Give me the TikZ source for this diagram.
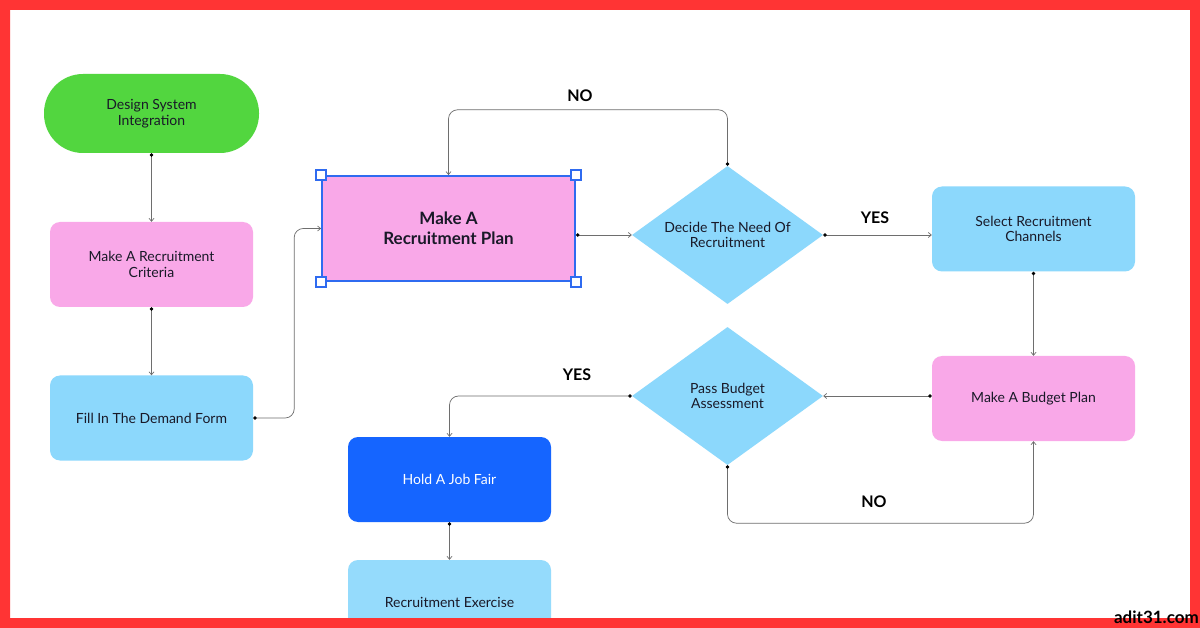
\documentclass[tikz,border=0pt]{standalone}
\usepackage{fontspec}
\setmainfont{Lato}
\usepackage{tikz}
\usetikzlibrary{arrows.meta,shapes.geometric,calc}
\definecolor{termgreen}{RGB}{82,214,63}
\definecolor{stepPink}{RGB}{249,168,232}
\definecolor{stepSky}{RGB}{140,216,252}
\definecolor{stepBlue}{RGB}{21,101,255}
\definecolor{selBlue}{RGB}{47,107,240}
\definecolor{frameRed}{RGB}{255,52,52}
\definecolor{lineGray}{RGB}{110,110,110}
\definecolor{ink}{RGB}{25,25,40}

\begin{document}
\begin{tikzpicture}[x=1pt,y=-1pt,
font=\fontsize{14}{15.5}\selectfont,
box/.style={rounded corners=10pt,align=center,minimum width=203pt,minimum height=85pt,inner sep=2pt,text=ink},
term/.style={box,fill=termgreen,minimum width=215pt,minimum height=79pt,rounded corners=39pt},
decision/.style={diamond,aspect=1.38,align=center,minimum width=191pt,minimum height=138pt,inner sep=0pt,fill=stepSky,text=ink},
handle/.style={draw=selBlue,fill=white,line width=1.5pt,minimum size=10pt,inner sep=0pt},
tag/.style={font=\fontsize{16}{18}\selectfont\bfseries},
arr/.style={{Circle[length=3.5pt,color=black]}-{Straight Barb[length=3pt,width=5pt]},draw=lineGray,line width=0.7pt},
elbow/.style={arr,rounded corners=9pt}]
\useasboundingbox (0,0) rectangle (1200,628);
\fill[white] (0,0) rectangle (1200,628);
% left column
\node[term] (design) at (151.5,113.5) {Design System\\Integration};
\node[box,fill=stepPink] (criteria) at (151.5,264.5) {Make A Recruitment\\Criteria};
\node[box,fill=stepSky] (demand) at (151.5,418) {Fill In The Demand Form};
% selected step
\node[box,fill=stepPink,draw=selBlue,line width=1.8pt,rounded corners=0pt,minimum width=253pt,minimum height=105pt,font=\fontsize{17}{20}\selectfont\bfseries] (plan) at (448.5,228.5) {Make A\\Recruitment Plan};
\foreach \c in {north west,north east,south west,south east}
  \node[handle] at (plan.\c) {};
% decisions
\node[decision] (need) at (727.5,235) {Decide The Need Of\\Recruitment};
\node[decision] (assess) at (727.5,396) {Pass Budget\\Assessment};
% right column
\node[box,fill=stepSky] (channels) at (1033.5,229) {Select Recruitment\\Channels};
\node[box,fill=stepPink] (budget) at (1033.5,398.5) {Make A Budget Plan};
% bottom
\node[box,fill=stepBlue,text=white] (fair) at (449.5,479.5) {Hold A Job Fair};
\node[box,fill=stepSky!92!white] (exercise) at (449.5,602.5) {Recruitment Exercise};
% connectors
\draw[arr] (design) -- (criteria);
\draw[arr] (criteria) -- (demand);
\draw[elbow] (demand.east) -- ++(41,0) |- (plan.west);
\draw[arr] (plan.east |- need.west) -- (need.west);
\draw[elbow] (need.north) -- ++(0,-56) -| (plan.north);
\draw[arr] (need.east) -- (need.east -| channels.west);
\draw[arr] (channels) -- (budget);
\draw[arr] (budget.west |- assess.east) -- (assess.east);
\draw[elbow] (assess.west) -| (fair.north);
\draw[elbow] (assess.south) -- ++(0,58) -| (budget.south);
\draw[arr] (fair) -- (exercise);
% branch labels
\node[tag] (no1) at (580,96) {NO};
\node[tag] (yes1) at (875,218) {YES};
\node[tag] (yes2) at (577,375) {YES};
\node[tag] (no2) at (874,502) {NO};
% frame
\fill[frameRed,even odd rule] (0,0) rectangle (1200,628) (10,10) rectangle (1190,618);
\fill[frameRed] (0,618) rectangle (1200,640);
\node[anchor=east,font=\fontsize{17}{18}\selectfont\bfseries,inner sep=0pt] (site) at (1199,617) {adit31.com};
\end{tikzpicture}
\end{document}
